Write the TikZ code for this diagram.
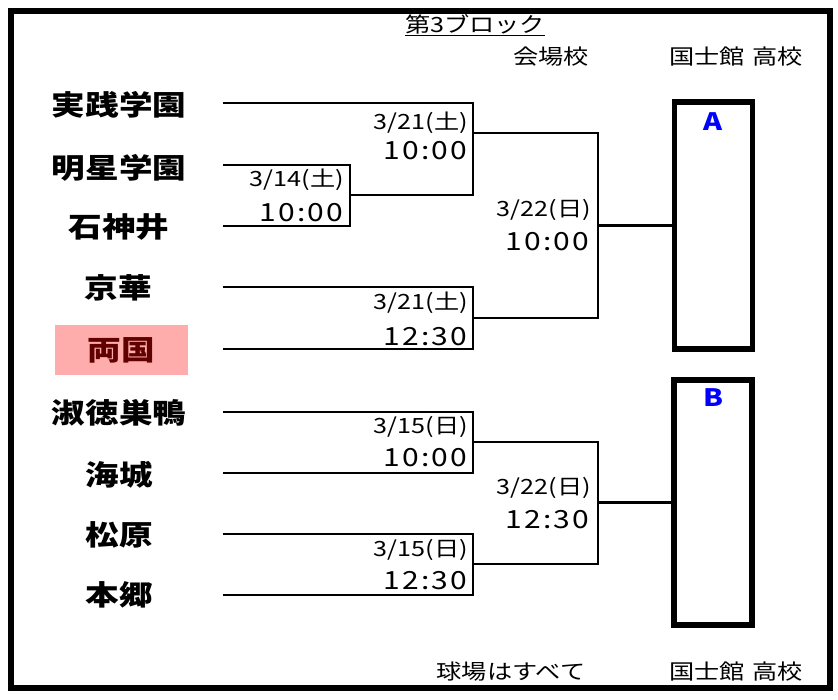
\documentclass[tikz,border=0pt]{standalone}
\usepackage{fontspec}
\setmainfont{Noto Sans CJK JP}[FakeStretch=1.2]
\definecolor{pinkbg}{RGB}{255,172,172}
\definecolor{darkred}{RGB}{96,0,0}
\definecolor{blueAB}{RGB}{0,0,255}

\begin{document}
\begin{tikzpicture}[x=1pt,y=-1pt,
    team/.style={font=\fontsize{28}{28}\selectfont\bfseries, inner sep=0pt},
    day/.style={font=\fontsize{21}{21}\selectfont, anchor=east, inner sep=0pt},
    hour/.style={font=\fontsize{25}{25}\selectfont\addfontfeatures{LetterSpace=8}, anchor=east, inner sep=0pt},
    head/.style={font=\fontsize{21}{21}\selectfont, inner sep=0pt},
    line/.style={line width=2.8pt},
    slot/.style={draw, line width=5.5pt, minimum width=78pt},
    slotname/.style={font=\fontsize{24}{24}\selectfont\bfseries, text=blueAB, inner sep=0pt}]
      \useasboundingbox (0,0) rectangle (838,700);
      % 1. 外枠
      \draw[line width=6pt] (11,11) rectangle (830,688);

      % 2. 見出し
      \node[head, font=\fontsize{21}{21}\selectfont, anchor=west] (title) at (405,25) {\underline{第3ブロック}};
      \node[head] (venue) at (551,57) {会場校};
      \node[head] (host) at (736,57) {国士館\hspace{0.35em}高校};
      \node[head] (note) at (511,672) {球場はすべて};
      \node[head] (host2) at (736,672) {国士館\hspace{0.35em}高校};

      % 3. 出場校
      \node[team] (t1) at (119,105) {実践学園};
      \node[team] (t2) at (119,168) {明星学園};
      \node[team] (t3) at (119,227) {石神井};
      \node[team] (t4) at (118,288) {京華};
      \node[team, fill=pinkbg, text=darkred, minimum width=133pt, minimum height=50pt] (t5) at (121.5,350) {両国};
      \node[team] (t6) at (119,413) {淑徳巣鴨};
      \node[team] (t7) at (119,475) {海城};
      \node[team] (t8) at (119,535) {松原};
      \node[team] (t9) at (119,595) {本郷};

      % 4. 各校の線の始点
      \coordinate (s1) at (223,103);
      \coordinate (s2) at (223,165);
      \coordinate (s3) at (223,226);
      \coordinate (s4) at (223,287);
      \coordinate (s5) at (223,349);
      \coordinate (s6) at (223,412);
      \coordinate (s7) at (223,473);
      \coordinate (s8) at (223,534);
      \coordinate (s9) at (223,595);

      % 5. 1回戦・2回戦の山
      \coordinate (m0) at (350,195);
      \coordinate (m1) at (473,133);
      \coordinate (m2) at (473,318);
      \coordinate (m3) at (473,442);
      \coordinate (m4) at (473,564);
      \draw[line] (s2) -| (m0) |- (s3);
      \draw[line] (s1) -| (m1) |- (m0);
      \draw[line] (s4) -| (m2) |- (s5);
      \draw[line] (s6) -| (m3) |- (s7);
      \draw[line] (s8) -| (m4) |- (s9);

      % 6. 代表枠 A, B
      \node[slot, minimum height=247pt] (boxA) at (713.5,225.5) {};
      \node[slot, minimum height=245pt] (boxB) at (713,502.5) {};
      \node[slotname] (la) at (713,122) {A};
      \node[slotname] (lb) at (713,398) {B};

      % 7. 代表決定戦
      \coordinate (f1) at (598,225.5);
      \coordinate (f2) at (598,502.5);
      \draw[line] (m1) -| (f1) |- (m2);
      \draw[line] (m3) -| (f2) |- (m4);
      \draw[line] (f1) -- (boxA.west);
      \draw[line] (f2) -- (boxB.west);

      % 8. 日程
      \node[day] (d0) at (344,180) {3/14(土)};
      \node[hour] (h0) at (343,213) {10:00};
      \node[day] (d1) at (468,123) {3/21(土)};
      \node[hour] (h1) at (467,151) {10:00};
      \node[day] (d2) at (468,303) {3/21(土)};
      \node[hour] (h2) at (467,337) {12:30};
      \node[day] (d3) at (468,427) {3/15(日)};
      \node[hour] (h3) at (467,458) {10:00};
      \node[day] (d4) at (468,550) {3/15(日)};
      \node[hour] (h4) at (467,581) {12:30};
      \node[day] (d5) at (591,210) {3/22(日)};
      \node[hour] (h5) at (589,242) {10:00};
      \node[day] (d6) at (591,488) {3/22(日)};
      \node[hour] (h6) at (589,520) {12:30};
\end{tikzpicture}
\end{document}
